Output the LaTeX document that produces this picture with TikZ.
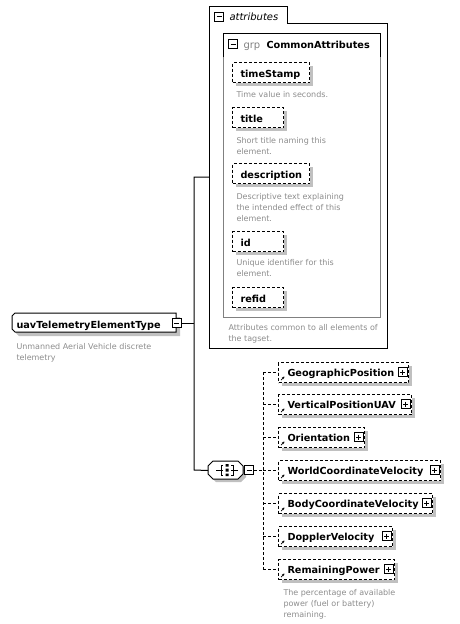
\documentclass[tikz,border=0pt]{standalone}
\usepackage{fontspec}
\setmainfont{DejaVu Sans}
\usetikzlibrary{arrows.meta}
\definecolor{descgray}{HTML}{8C8C8C}
\definecolor{shadowgray}{HTML}{C0C0C0}
\definecolor{grpgray}{HTML}{808080}
\begin{document}
\begin{tikzpicture}[x=1pt,y=-1pt,line width=1pt,
  namef/.style={anchor=base west,inner sep=0,font=\fontsize{9.7}{12}\selectfont\bfseries},
  descf/.style={anchor=base west,inner sep=0,font=\fontsize{8}{11}\selectfont,text=descgray},
  dsh/.style={dash pattern=on 3pt off 2pt},
  attrbox/.style={draw,dsh,fill=white,anchor=north west,inner sep=0,minimum height=20pt},
  ghost/.style={draw=none,inner sep=0,anchor=north west},
  pmbox/.style={draw,solid,fill=white,minimum size=9pt,inner sep=0,line width=0.8pt},
  minusbox/.style={pmbox,path picture={\draw[line width=0.8pt] ([xshift=2pt]path picture bounding box.west)--([xshift=-2pt]path picture bounding box.east);}},
  plusbox/.style={pmbox,path picture={\draw[line width=0.8pt] ([xshift=2pt]path picture bounding box.west)--([xshift=-2pt]path picture bounding box.east) ([yshift=-2pt]path picture bounding box.north)--([yshift=2pt]path picture bounding box.south);}},
  refarrow/.style={-{Stealth[length=2.6pt,width=2.6pt]},line width=0.7pt}
]
\useasboundingbox (0,0) rectangle (459,624);

% ---------- main element ----------
\fill[shadowgray] (19,317) -- (180,317) -- (180,336) -- (19,336) -- (16,333) -- (16,320) -- cycle;
\draw[fill=white] (15,313) -- (176,313) -- (176,332) -- (15,332) -- (12,329) -- (12,316) -- cycle;
\node[ghost,minimum width=164pt,minimum height=19pt] (main) at (12,313) {};
\node[namef] (mainlbl) at (16,328) {uavTelemetryElementType};
\node[minusbox] (mainmin) at (176.5,323) {};
\node[descf] (maind1) at (16,349) {Unmanned Aerial Vehicle discrete};
\node[descf] (maind2) at (16,360) {telemetry};

% ---------- attributes box ----------
\draw (209,6) -- (287,6) -- (287,23) -- (387,23) -- (387,348) -- (209,348) -- cycle;
\node[minusbox] (attrmin) at (219,16.5) {};
\node[anchor=base west,inner sep=0,font=\fontsize{10}{12}\selectfont\itshape] (attrlbl) at (229,20) {attributes};
\coordinate (attrW) at (209,177);

% group box
\draw[grpgray] (223,33) rectangle (380,317);
\draw (223,57) -- (223,33) -- (380,33) -- (380,57);
\node[minusbox] (grpmin) at (233,44) {};
\node[anchor=base west,inner sep=0,font=\fontsize{10}{12}\selectfont,text=grpgray] (grplbl) at (243,48) {grp};
\node[namef] (grpname) at (266,48) {CommonAttributes};

\foreach \nm/\t/\r/\i in {timeStamp/62/309/1,title/107/283/2,description/163/309/3,id/231/283/4,refid/287/283/5}{
  \fill[shadowgray] (236,\t+4) rectangle (\r+4,\t+24);
  \node[attrbox,minimum width={\r pt-232pt}] (ab\i) at (232,\t) {};
  \node[namef] (al\i) at (240,\t+15) {\nm};
}
\node[descf] (ad1) at (236,97) {Time value in seconds.};
\node[descf] (ad2a) at (236,143) {Short title naming this};
\node[descf] (ad2b) at (236,154) {element.};
\node[descf] (ad3a) at (236,199) {Descriptive text explaining};
\node[descf] (ad3b) at (236,210) {the intended effect of this};
\node[descf] (ad3c) at (236,221) {element.};
\node[descf] (ad4a) at (236,265) {Unique identifier for this};
\node[descf] (ad4b) at (236,276) {element.};
\node[descf] (gd1) at (228,330) {Attributes common to all elements of};
\node[descf] (gd2) at (228,341) {the tagset.};

% ---------- sequence ----------
\fill[shadowgray] (216,464) -- (241,464) -- (246,469) -- (246,477) -- (241,482) -- (216,482) -- (211,477) -- (211,469) -- cycle;
\draw[fill=white] (213,461) -- (238,461) -- (243,466) -- (243,474) -- (238,479) -- (213,479) -- (208,474) -- (208,466) -- cycle;
\node[ghost,minimum width=35pt,minimum height=18pt] (seq) at (208,461) {};
\begin{scope}[line width=0.8pt]
  \draw (216,470) -- (221,470) (223,465) -- (221,465) -- (221,475) -- (223,475) (221,470) -- (223,470);
  \draw (238,470) -- (233,470) (231,465) -- (233,465) -- (233,475) -- (231,475) (233,470) -- (231,470);
  \fill (225.5,464) rectangle (228.5,466.5) (225.5,468.5) rectangle (228.5,471.5) (225.5,473.5) rectangle (228.5,476);
\end{scope}
\node[minusbox] (seqmin) at (249,470) {};

% ---------- trunk connectors ----------
\coordinate (tTop) at (194,177);
\coordinate (tBot) at (194,470);
\draw (mainmin.east) -- (mainmin.east -| tTop);
\draw (attrW) -- (tTop) -- (tBot) -- (seq.west);
\draw (seq.east) -- (seqmin.west);
\coordinate (vTop) at (263,372);
\coordinate (vBot) at (263,569);
\draw[dsh] (seqmin.east) -- (seqmin.east -| vTop);
\draw[dsh] (vTop) -- (vBot);

% ---------- child elements ----------
\foreach \nm/\cy/\r/\i in {GeographicPosition/372/408/1,VerticalPositionUAV/404/411/2,Orientation/437/364/3,WorldCoordinateVelocity/470/440/4,BodyCoordinateVelocity/503/432/5,DopplerVelocity/536/392/6,RemainingPower/569/394/7}{
  \fill[shadowgray] (282,\cy-6) rectangle (\r+4,\cy+14);
  \node[attrbox,minimum width={\r pt-278pt}] (el\i) at (278,\cy-10) {};
  \node[namef] (ell\i) at (287,\cy+4.5) {\nm};
  \node[plusbox] (elp\i) at (\r-5.5,\cy) {};
  \draw[refarrow] (281,\cy+8) -- (284.5,\cy+4.5);
  \draw[dsh] (el\i.west -| vTop) -- (el\i.west);
}
\node[descf] (rd1) at (283,595) {The percentage of available};
\node[descf] (rd2) at (283,606) {power (fuel or battery)};
\node[descf] (rd3) at (283,617) {remaining.};
\end{tikzpicture}
\end{document}
